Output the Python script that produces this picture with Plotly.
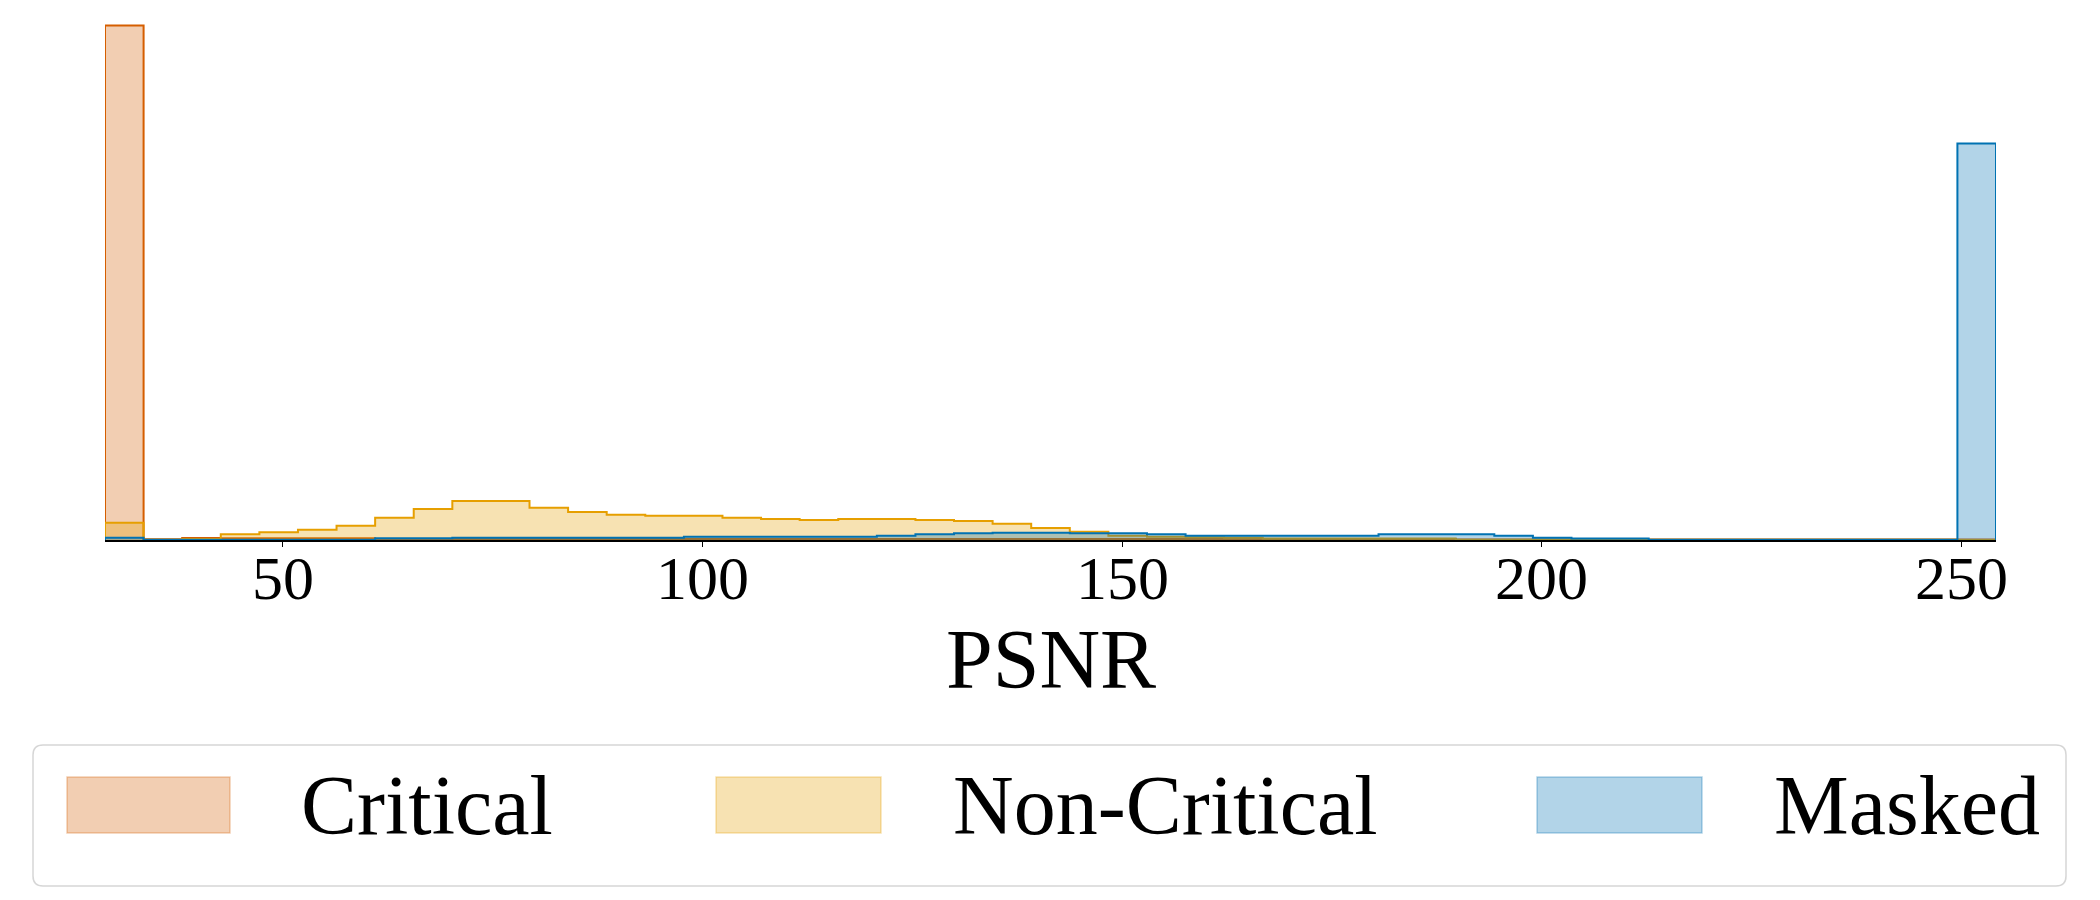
import numpy as np
import plotly.graph_objects as go

# ---- data (histogram counts per bin) ----
series_names = ["Critical", "Non-Critical", "Masked"]

bin_start = 28.85
bin_width = 4.597

critical_counts = [5143, 7, 20, 17, 17, 17, 17,
                   10, 10, 10, 10, 10, 10, 10, 10, 10, 10,
                   10, 10, 10, 10, 10, 10, 10, 10, 10, 10,
                   10, 10, 10, 10, 10, 10, 10, 10,
                   5, 5, 5, 5, 5, 5, 5, 5, 5, 5, 5, 5, 5, 5]

noncritical_counts = [173, 3, 10, 57, 77, 103, 143, 223, 310, 390,
                      390, 323, 280, 253, 243, 243, 223, 210, 200, 210,
                      210, 200, 190, 163, 120, 82, 43, 33, 27, 23,
                      15, 15, 15, 15, 15, 3, 3, 3, 3, 3,
                      3, 3, 3, 3, 3, 3, 3, 3, 0]

masked_counts = [23, 3, 3, 3, 3, 3, 3, 17, 17, 23,
                 23, 23, 23, 23, 23, 33, 33, 33, 33, 33,
                 43, 57, 67, 73, 73, 67, 67, 57, 43, 43,
                 43, 43, 43, 57, 57, 57, 43, 23, 15, 15,
                 2, 2, 2, 2, 2, 2, 2, 2, 3963]

tick_values = [50, 100, 150, 200, 250]
x_label = "PSNR"

colors = {"Critical": (213, 94, 0), "Non-Critical": (230, 159, 0), "Masked": (0, 114, 178)}
FONT = "Liberation Serif, Times New Roman, serif"

edges = bin_start + bin_width * np.arange(len(critical_counts) + 1)


def step_xy(counts):
    xs = [edges[0]] + list(edges) + [edges[-1]]
    ys = [0] + list(counts) + [counts[-1], 0]
    return xs, ys


fig = go.Figure()
for name, counts in zip(series_names, [critical_counts, noncritical_counts, masked_counts]):
    r, g, b = colors[name]
    xs, ys = step_xy(counts)
    fig.add_trace(go.Scatter(
        x=xs, y=ys, mode="lines", line_shape="hv", name=name,
        line=dict(color=f"rgb({r},{g},{b})", width=2),
        fill="tozeroy", fillcolor=f"rgba({r},{g},{b},0.3)",
        showlegend=False, hoverinfo="skip",
    ))

ymax = max(max(critical_counts), max(noncritical_counts), max(masked_counts)) * 1.034

# page has an 8px body margin; figure is 2084x884 placed at (8, 8)
OFF = 8
ML, MR, MT = 97, 96, 0
PLOT_W = 2084 - ML - MR          # 1891
PLOT_H = 540 - OFF - MT          # 532

fig.update_layout(
    width=2084, height=884,
    margin=dict(l=ML, r=MR, t=MT, b=884 - (540 - OFF), pad=0),
    paper_bgcolor="white", plot_bgcolor="white",
    font=dict(family=FONT, color="black"),
    xaxis=dict(range=[edges[0], edges[-1]], tickvals=tick_values,
               showticklabels=False,
               showline=True, linecolor="black", linewidth=1.5,
               ticks="outside", ticklen=5, tickwidth=1.2, tickcolor="black",
               showgrid=False, zeroline=False),
    yaxis=dict(range=[0, ymax], visible=False, showgrid=False, zeroline=False),
)


def px_x(px):
    return (px - OFF - ML) / PLOT_W


def px_y(py):
    return (540 - py) / PLOT_H


# tick labels
for v in tick_values:
    fig.add_annotation(text=str(v), xref="x", yref="paper", x=v, y=px_y(578),
                       xanchor="center", yanchor="middle", showarrow=False,
                       font=dict(family=FONT, size=62, color="black"))

# axis title
fig.add_annotation(text=x_label, xref="paper", yref="paper", x=0.5, y=px_y(659),
                   xanchor="center", yanchor="middle", showarrow=False,
                   font=dict(family=FONT, size=84, color="black"))

# custom legend (box, swatches, labels) in paper coordinates
x0, x1 = px_x(33), px_x(2066)
yt, yb = px_y(745), px_y(886)
rx, ry = 10 / PLOT_W, 10 / PLOT_H
path = (f"M {x0+rx},{yb} L {x1-rx},{yb} Q {x1},{yb} {x1},{yb+ry} "
        f"L {x1},{yt-ry} Q {x1},{yt} {x1-rx},{yt} L {x0+rx},{yt} "
        f"Q {x0},{yt} {x0},{yt-ry} L {x0},{yb+ry} Q {x0},{yb} {x0+rx},{yb} Z")
fig.add_shape(type="path", path=path, xref="paper", yref="paper",
              line=dict(color="#d6d6d6", width=1.5), fillcolor="white", layer="above")

swatch_px = [(67, 230), (716, 881), (1537, 1702)]
label_px = [299, 951, 1772]
for name, (sx0, sx1), lx in zip(series_names, swatch_px, label_px):
    r, g, b = colors[name]
    fig.add_shape(type="rect", xref="paper", yref="paper",
                  x0=px_x(sx0), x1=px_x(sx1), y0=px_y(833), y1=px_y(777),
                  fillcolor=f"rgba({r},{g},{b},0.3)",
                  line=dict(color=f"rgba({r},{g},{b},0.3)", width=1.5), layer="above")
    fig.add_annotation(text=name, xref="paper", yref="paper", x=px_x(lx), y=px_y(805),
                       xanchor="left", yanchor="middle", showarrow=False,
                       font=dict(family=FONT, size=84, color="black"))

fig.write_html("out.html")
